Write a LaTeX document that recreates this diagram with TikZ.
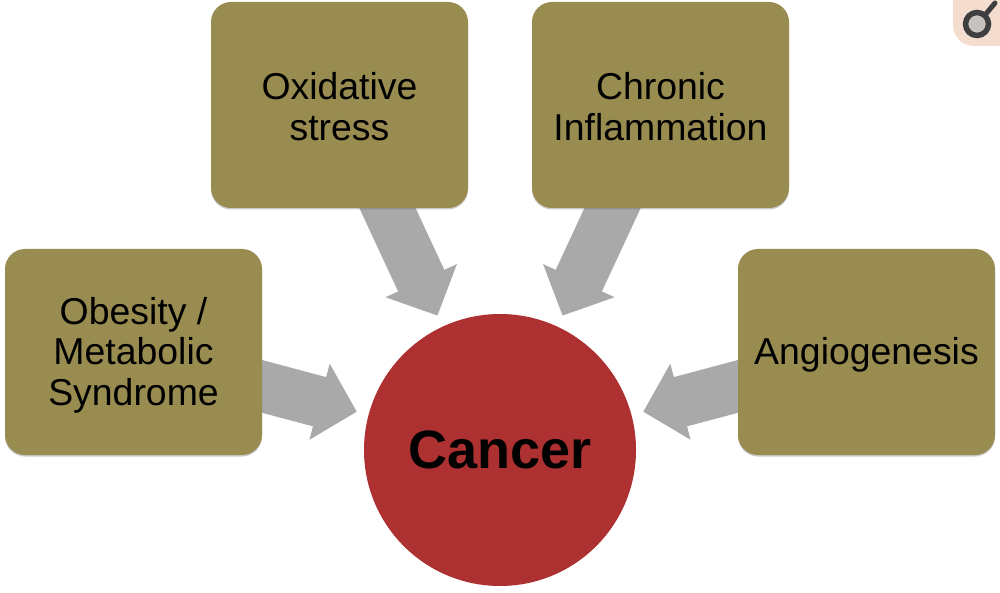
\documentclass[tikz,border=0pt]{standalone}
\usepackage{fontspec}
\setmainfont{Liberation Sans}
\usetikzlibrary{arrows.meta,backgrounds,shadows}
\definecolor{olive}{HTML}{998C50}
\definecolor{cancerred}{HTML}{AE3131}
\definecolor{arrowgray}{HTML}{A9A9A9}
\definecolor{peach}{HTML}{F4DDCF}
\definecolor{ringdark}{HTML}{3E3E40}
\definecolor{ringfill}{HTML}{C6C3BE}
\newcommand{\topgap}[1]{\rule{0pt}{#1}}
\tikzset{
  factor/.style={fill=olive,rounded corners=20pt,minimum width=257pt,minimum height=206pt,
    inner sep=0pt,align=center,text=black,
    font=\fontsize{37.4pt}{40.5pt}\selectfont,
    drop shadow={shadow xshift=0pt,shadow yshift=-1.5pt,opacity=.35,fill=black!60}},
  disease/.style={circle,fill=cancerred,minimum size=272pt,inner sep=0pt,text=black,
    font=\fontsize{54pt}{60pt}\selectfont\bfseries},
  push/.style={line width=51pt,draw=arrowgray,shorten >=12pt,
    -{Triangle[length=38.6pt,width=76.5pt]}}
}
\begin{document}
\begin{tikzpicture}[x=1pt,y=-1pt]
\useasboundingbox (0,0) rectangle (1000,593);
\node[factor] (obesity) at (133.5,352) {\topgap{33pt}Obesity /\\Metabolic\\Syndrome};
\node[factor] (oxidative) at (339.5,105) {\topgap{30pt}Oxidative\\stress};
\node[factor] (chronic) at (660.5,105) {\topgap{30pt}Chronic\\Inflammation};
\node[factor] (angio) at (866.5,352) {\topgap{33pt}Angiogenesis};
\node[disease] (cancer) at (500,450) {Cancer};
\begin{scope}[on background layer]
\draw[push] (obesity.center) -- (cancer);
\draw[push] (oxidative.center) -- (cancer);
\draw[push] (chronic.center) -- (cancer);
\draw[push] (angio.center) -- (cancer);
\end{scope}
% corner badge
\fill[peach] (1000,0) -- (953,0) -- (953,24) .. controls (953,37) and (962,46) .. (975,46) -- (1000,46) -- cycle;
\draw[ringdark,line width=5pt,line cap=round] (985,15) -- (995,3);
\draw[ringdark,fill=ringfill,line width=5.5pt] (977,24) circle[radius=11.5pt];
\end{tikzpicture}
\end{document}
